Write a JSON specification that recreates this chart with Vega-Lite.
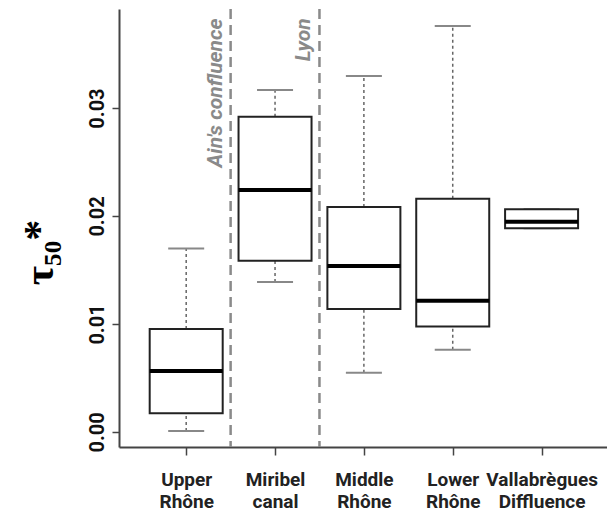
{
  "$schema": "https://vega.github.io/schema/vega-lite/v6.json",
  "width": 488,
  "height": 438,
  "autosize": {"type": "none"},
  "padding": {"left": 119, "top": 9, "right": 0, "bottom": 71},
  "background": "white",
  "config": {"view": {"stroke": null}, "font": "Roboto"},
  "datasets": {
    "boxes": [
      {"name": "Upper Rhône", "pos": 1, "lower": 0.0001, "q1": 0.00173, "median": 0.00565, "q3": 0.00954, "upper": 0.0170},
      {"name": "Miribel canal", "pos": 2, "lower": 0.01389, "q1": 0.01586, "median": 0.0224, "q3": 0.0292, "upper": 0.03167},
      {"name": "Middle Rhône", "pos": 3, "lower": 0.00549, "q1": 0.01139, "median": 0.01537, "q3": 0.02083, "upper": 0.03296},
      {"name": "Lower Rhône", "pos": 4, "lower": 0.00762, "q1": 0.00978, "median": 0.01216, "q3": 0.0216, "upper": 0.0376},
      {"name": "Vallabrègues Diffluence", "pos": 5, "lower": 0.01886, "q1": 0.01886, "median": 0.01947, "q3": 0.02062, "upper": 0.02062}
    ],
    "lines": [
      {"pos": 1.5, "label": "Ain's confluence"},
      {"pos": 2.5, "label": "Lyon"}
    ]
  },
  "layer": [
    {
      "data": {"name": "lines"},
      "mark": {"type": "rule", "color": "#8a8a8a", "strokeWidth": 2.5, "strokeDash": [10, 6]},
      "encoding": {
        "x": {"field": "pos", "type": "quantitative", "scale": {"domain": [0.3, 5.68], "nice": false, "zero": false}}
      }
    },
    {
      "data": {"name": "lines"},
      "mark": {"type": "text", "angle": 270, "align": "right", "baseline": "alphabetic", "dy": -9, "fontStyle": "italic", "fontWeight": "bold", "fontSize": 21, "color": "#8a8a8a", "font": "Roboto"},
      "encoding": {
        "x": {"field": "pos", "type": "quantitative"},
        "y": {"datum": 0.0383, "type": "quantitative"},
        "text": {"field": "label"}
      }
    },
    {
      "data": {"name": "boxes"},
      "mark": {"type": "rule", "color": "#666666", "strokeWidth": 1.5, "strokeDash": [3, 3]},
      "encoding": {
        "x": {"field": "pos", "type": "quantitative"},
        "y": {"field": "q3", "type": "quantitative"},
        "y2": {"field": "upper"}
      }
    },
    {
      "data": {"name": "boxes"},
      "mark": {"type": "rule", "color": "#666666", "strokeWidth": 1.5, "strokeDash": [3, 3]},
      "encoding": {
        "x": {"field": "pos", "type": "quantitative"},
        "y": {"field": "lower", "type": "quantitative"},
        "y2": {"field": "q1"}
      }
    },
    {
      "data": {"name": "boxes"},
      "mark": {"type": "tick", "orient": "horizontal", "size": 36, "thickness": 2, "color": "#888888", "opacity": 1},
      "encoding": {
        "x": {"field": "pos", "type": "quantitative"},
        "y": {"field": "upper", "type": "quantitative"}
      }
    },
    {
      "data": {"name": "boxes"},
      "mark": {"type": "tick", "orient": "horizontal", "size": 36, "thickness": 2, "color": "#888888", "opacity": 1},
      "encoding": {
        "x": {"field": "pos", "type": "quantitative"},
        "y": {"field": "lower", "type": "quantitative"}
      }
    },
    {
      "data": {"name": "boxes"},
      "mark": {"type": "bar", "size": 73, "fill": "white", "stroke": "#222222", "strokeWidth": 2},
      "encoding": {
        "x": {
          "field": "pos", "type": "quantitative",
          "axis": {
            "values": [1, 2, 3, 4, 5],
            "title": null,
            "grid": false,
            "labelExpr": "datum.value == 1 ? ['Upper', 'Rhône'] : datum.value == 2 ? ['Miribel', 'canal'] : datum.value == 3 ? ['Middle', 'Rhône'] : datum.value == 4 ? ['Lower', 'Rhône'] : ['Vallabrègues', 'Diffluence']",
            "labelFont": "Roboto",
            "labelFontWeight": "bold",
            "labelFontSize": 19,
            "labelColor": "#222222",
            "labelLineHeight": 22,
            "labelPadding": 15,
            "labelFlush": false,
            "labelOverlap": false,
            "labelBound": false,
            "domainColor": "#444444",
            "domainWidth": 2,
            "tickColor": "#444444",
            "tickWidth": 1.5,
            "tickSize": 8
          }
        },
        "y": {
          "field": "q1", "type": "quantitative",
          "scale": {"domain": [-0.00139, 0.03917], "nice": false, "zero": false},
          "axis": {
            "values": [0, 0.01, 0.02, 0.03],
            "format": ".2f",
            "grid": false,
            "labelAngle": 270,
            "labelAlign": "center",
            "labelBaseline": "alphabetic",
            "labelFont": "Roboto",
            "labelFontWeight": "bold",
            "labelFontSize": 20,
            "labelColor": "#111111",
            "labelPadding": 9,
            "labelOverlap": false,
            "domainColor": "#444444",
            "domainWidth": 2,
            "tickColor": "#444444",
            "tickWidth": 1.5,
            "tickSize": 7,
            "title": "τ₅₀*",
            "titleFont": "Liberation Serif, DejaVu Serif",
            "titleFontSize": 42,
            "titleFontWeight": "bold",
            "titleColor": "#000000",
            "titleAngle": 270,
            "titleAlign": "center",
            "titleBaseline": "alphabetic",
            "titleX": -67,
            "titleY": 243
          }
        },
        "y2": {"field": "q3"}
      }
    },
    {
      "data": {"name": "boxes"},
      "mark": {"type": "tick", "orient": "horizontal", "size": 73, "thickness": 4, "color": "#000000", "opacity": 1},
      "encoding": {
        "x": {"field": "pos", "type": "quantitative"},
        "y": {"field": "median", "type": "quantitative"}
      }
    },
    {
      "mark": {"type": "rule", "color": "#444444", "strokeWidth": 2},
      "encoding": {"y": {"datum": 0.03917, "type": "quantitative"}}
    }
  ]
}
